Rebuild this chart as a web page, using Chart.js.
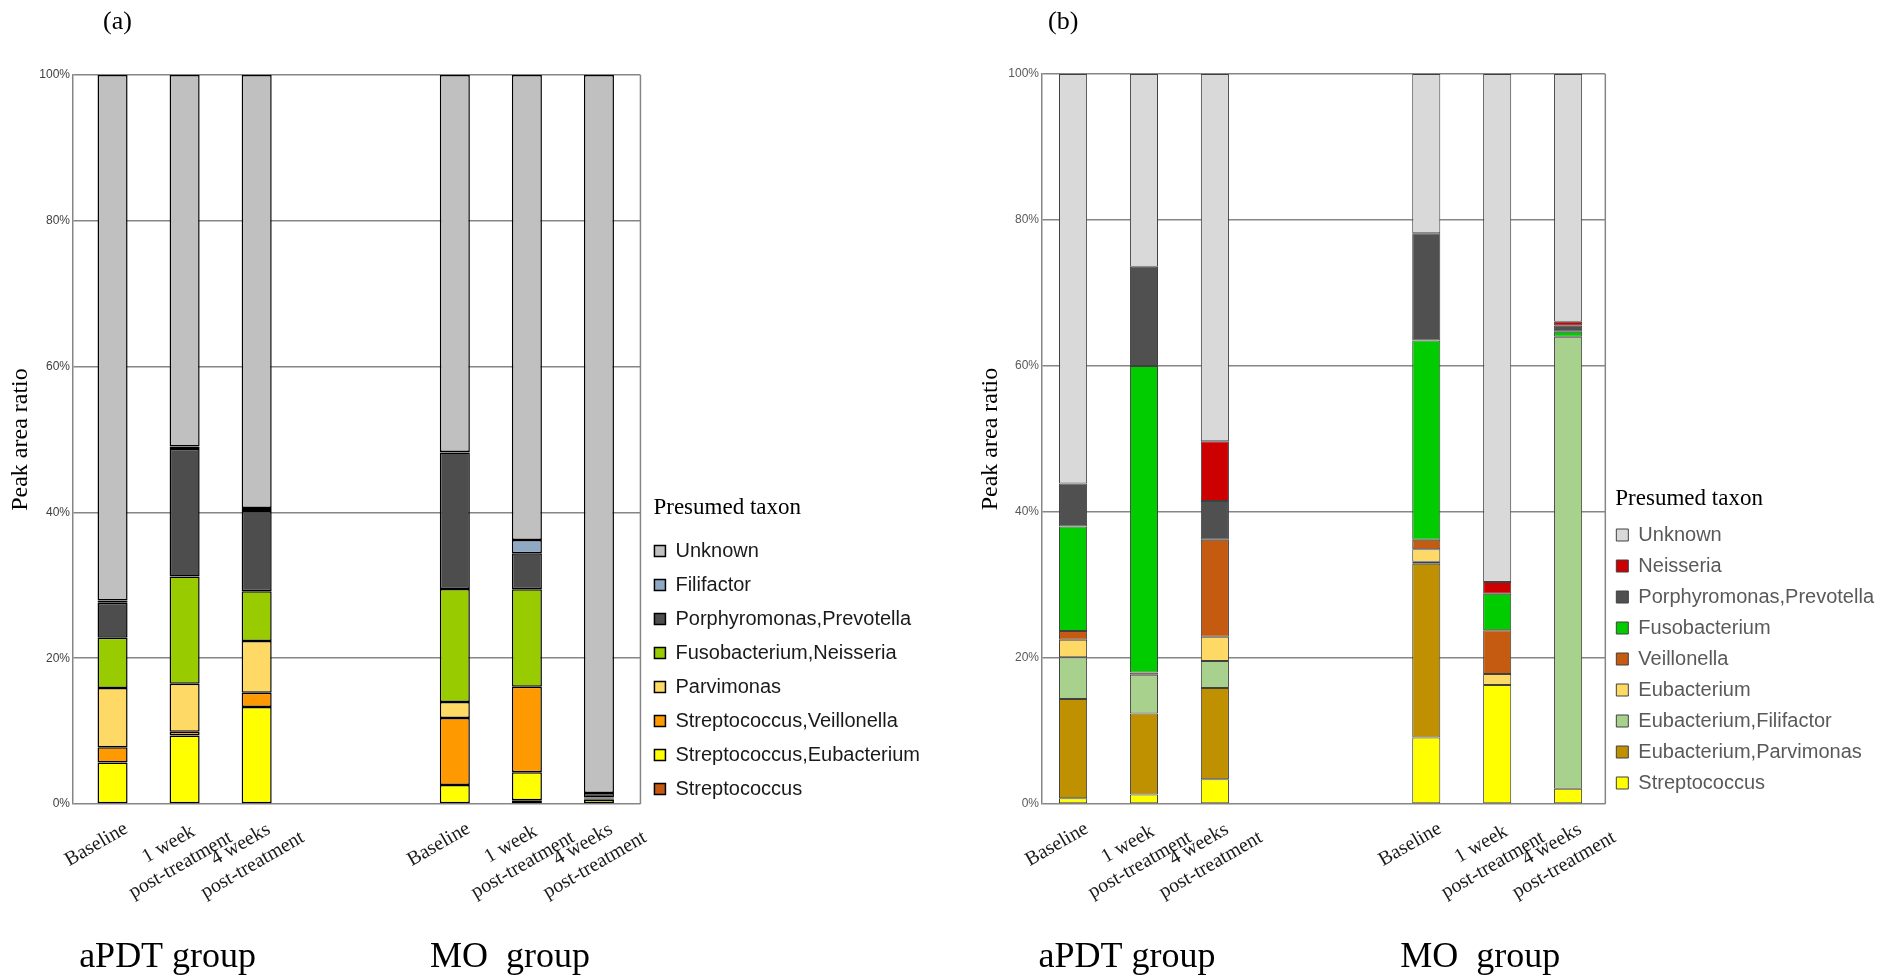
<!DOCTYPE html>
<html>
<head>
<meta charset="utf-8">
<script src="https://cdn.jsdelivr.net/npm/chart.js@4.4.0/dist/chart.umd.min.js"></script>
<style>
  html, body { margin: 0; padding: 0; background: #fff; overflow: hidden; }
  #wrap { position: relative; width: 1894px; height: 980px; }
  canvas { position: absolute; top: 0; }
  #chartA { left: 0; }
  #chartB { left: 947px; }
</style>
</head>
<body>
<div id="wrap">
  <canvas id="chartA" width="1000" height="980"></canvas>
  <canvas id="chartB" width="947" height="980"></canvas>
</div>
<script>
// ===================
// Data
// ===================
// bars: aPDT baseline, 1w, 4w, MO baseline, 1w, 4w
const timepoints = [['Baseline'], ['1 week', 'post-treatment'], ['4 weeks', 'post-treatment']];
const groups = ['aPDT group', 'MO  group'];
const yTicks = [0, 20, 40, 60, 80, 100];

// (a) stacked bottom -> top
const taxaA = ['Streptococcus', 'Streptococcus,Eubacterium', 'Streptococcus,Veillonella', 'Parvimonas',
  'Fusobacterium,Neisseria', 'Porphyromonas,Prevotella', 'Filifactor', 'Unknown'];
const colorsA = ['#C65911', '#FFFF00', '#FF9900', '#FFD966', '#99CC00', '#4D4D4D', '#8FA8C4', '#C0C0C0'];
const strepA      = [0,    0,     0,     0,    0.5,   0];
const strepEubA   = [5.7,  9.4,   13.3,  2.6,  3.85,  0.6];
const strepVeilA  = [2.1,  0.5,   1.95,  9.2,  11.75, 0.15];
const parvA       = [8.1,  6.6,   7.1,   2.2,  0,     0];
const fusoNeisA   = [6.9,  14.7,  6.85,  15.5, 13.35, 0.15];
const porphA      = [4.8,  17.5,  11.0,  18.7, 4.95,  0.6];
const filifactorA = [0.3,  0.35,  0.4,   0.1,  1.8,   0];
const unknownA    = [72.1, 50.95, 59.4,  51.7, 63.8,  98.5];

// (b) stacked bottom -> top
const taxaB = ['Streptococcus', 'Eubacterium,Parvimonas', 'Eubacterium,Filifactor', 'Eubacterium', 'Veillonella',
  'Fusobacterium', 'Porphyromonas,Prevotella', 'Neisseria', 'Unknown'];
const colorsB = ['#FFFF00', '#BF9000', '#A9D18E', '#FFD966', '#C55A11', '#00CC00', '#505050', '#CC0000', '#D9D9D9'];
const strepB    = [0.8,  1.3,  3.4,  9.1,  16.3, 2.1];
const eubParvB  = [13.6, 11.1, 12.5, 23.8, 0,    0];
const eubFiliB  = [5.7,  5.3,  3.7,  0.3,  0,    61.9];
const eubB      = [2.4,  0,    3.3,  1.7,  1.5,  0];
const veilB     = [1.2,  0.3,  13.3, 1.3,  6.0,  0];
const fusoB     = [14.3, 42.0, 0,    27.3, 5.0,  0.7];
const porphB    = [5.9,  13.6, 5.3,  14.7, 0,    0.8];
const neisB     = [0,    0,    8.2,  0,    1.6,  0.55];
const unknownB  = [56.1, 26.4, 50.3, 21.8, 69.6, 33.95];

const valuesA = [strepA, strepEubA, strepVeilA, parvA, fusoNeisA, porphA, filifactorA, unknownA];
const valuesB = [strepB, eubParvB, eubFiliB, eubB, veilB, fusoB, porphB, neisB, unknownB];

// ===================
// Extra drawing: frame, labels, legend title
// ===================
const extras = {
  id: 'extras',
  afterDraw(chart, args, o) {
    const { ctx, chartArea: ca, scales: { x } } = chart;
    ctx.save();

    // right edge of plot frame
    ctx.strokeStyle = o.frameColor;
    ctx.lineWidth = 1.5;
    ctx.beginPath();
    ctx.moveTo(ca.right, ca.top);
    ctx.lineTo(ca.right, ca.bottom);
    ctx.stroke();

    // panel letter
    ctx.fillStyle = '#000';
    ctx.textAlign = 'left';
    ctx.textBaseline = 'middle';
    ctx.font = '26px "Liberation Serif"';
    ctx.fillText(o.panel, o.panelX, 22);

    // legend title
    const first = chart.legend.legendHitBoxes[0];
    if (first) {
      ctx.font = '23px "Liberation Serif"';
      ctx.fillText('Presumed taxon', first.left - 1, first.top + first.height / 2 - o.titleGap);
    }

    // rotated category labels
    ctx.font = '20px "Liberation Serif"';
    ctx.fillStyle = '#1a1a1a';
    ctx.textAlign = 'center';
    o.slots.forEach((s, i) => {
      const px = x.getPixelForValue(s);
      ctx.save();
      ctx.translate(px - 22, ca.bottom + 30);
      ctx.rotate(-Math.PI / 6);
      timepoints[i % 3].forEach((t, j) => ctx.fillText(t, 0, 24 * (j + 0.5)));
      ctx.restore();
    });

    // group labels
    ctx.font = '36px "Liberation Serif"';
    ctx.fillStyle = '#000';
    ctx.textBaseline = 'alphabetic';
    groups.forEach((g, k) => {
      const c = (x.getPixelForValue(o.slots[k * 3]) + x.getPixelForValue(o.slots[k * 3 + 2])) / 2;
      ctx.fillText(g, c - 17, 967);
    });
    ctx.restore();
  }
};

// ===================
// Chart builder
// ===================
function makeChart(id, taxa, colors, values, cfg) {
  const datasets = taxa.map((name, t) => ({
    label: name,
    data: values[t].map((v, i) => ({ x: cfg.slots[i], y: v || null })),
    backgroundColor: colors[t],
    borderColor: cfg.barBorder,
    borderWidth: cfg.barBorderWidth,
    borderSkipped: false,
    categoryPercentage: 1,
    barPercentage: cfg.barPct
  }));

  return new Chart(document.getElementById(id), {
    type: 'bar',
    data: { datasets },
    plugins: [extras],
    options: {
      responsive: false,
      animation: false,
      devicePixelRatio: 1,
      layout: { padding: { left: 0, top: cfg.top, right: cfg.padRight, bottom: cfg.padBottom } },
      scales: {
        x: {
          type: 'linear',
          stacked: true,
          offset: false,
          min: cfg.xMin,
          max: cfg.xMax,
          afterBuildTicks: s => { s.ticks = cfg.slots.map(v => ({ value: v })); },
          afterFit: s => { s.height = cfg.xAxisH; },
          ticks: { display: false },
          grid: { display: false },
          border: { display: false }
        },
        y: {
          stacked: true,
          min: 0,
          max: 100,
          afterBuildTicks: s => { s.ticks = yTicks.map(v => ({ value: v })); },
          afterFit: s => { s.width = cfg.left; },
          ticks: {
            callback: v => v + '%',
            padding: 3,
            color: cfg.tickColor,
            font: { family: '"Liberation Sans Narrow", "Liberation Sans", sans-serif', size: 12 }
          },
          grid: { color: cfg.gridColor, lineWidth: 1.5, drawTicks: false },
          border: { color: cfg.gridColor, width: 1.5 },
          title: {
            display: true,
            text: 'Peak area ratio',
            color: '#000',
            font: { family: 'Liberation Serif', size: 24, lineHeight: 1.2 },
            padding: { top: cfg.yTitlePad, bottom: 0 }
          }
        }
      },
      plugins: {
        legend: {
          position: 'right',
          align: 'end',
          reverse: true,
          maxWidth: cfg.legendW,
          labels: {
            boxWidth: cfg.box,
            boxHeight: cfg.box,
            padding: cfg.legendPad,
            color: cfg.legendColor,
            font: { family: 'Liberation Sans', size: 20 }
          }
        },
        tooltip: { enabled: false },
        extras: {
          panel: cfg.panel,
          panelX: cfg.panelX,
          slots: cfg.slots,
          titleGap: cfg.titleGap,
          frameColor: cfg.gridColor
        }
      }
    }
  });
}

// ===================
// Panels
// ===================
makeChart('chartA', taxaA, colorsA, valuesA, {
  panel: '(a)', panelX: 103,
  left: 73, top: 75, padRight: 70, legendW: 290, padBottom: 167, xAxisH: 9,
  slots: [0, 1, 2, 4.75, 5.75, 6.75], xMin: -0.549, xMax: 7.326, barPct: 0.417,
  barBorder: '#000', barBorderWidth: 1.5,
  box: 11, legendPad: 14, legendColor: '#1a1a1a', titleGap: 43,
  gridColor: '#868686', tickColor: '#404040', yTitlePad: 6.6
});

makeChart('chartB', taxaB, colorsB, valuesB, {
  panel: '(b)', panelX: 101,
  left: 95, top: 74, padRight: 10, legendW: 280, padBottom: 176, xAxisH: 0,
  slots: [0, 1, 2, 4.98, 5.98, 6.98], xMin: -0.438, xMax: 7.505, barPct: 0.396,
  barBorder: '#404040', barBorderWidth: 1,
  box: 12, legendPad: 11, legendColor: '#595959', titleGap: 36,
  gridColor: '#868686', tickColor: '#595959', yTitlePad: 29.6
});
</script>
</body>
</html>
